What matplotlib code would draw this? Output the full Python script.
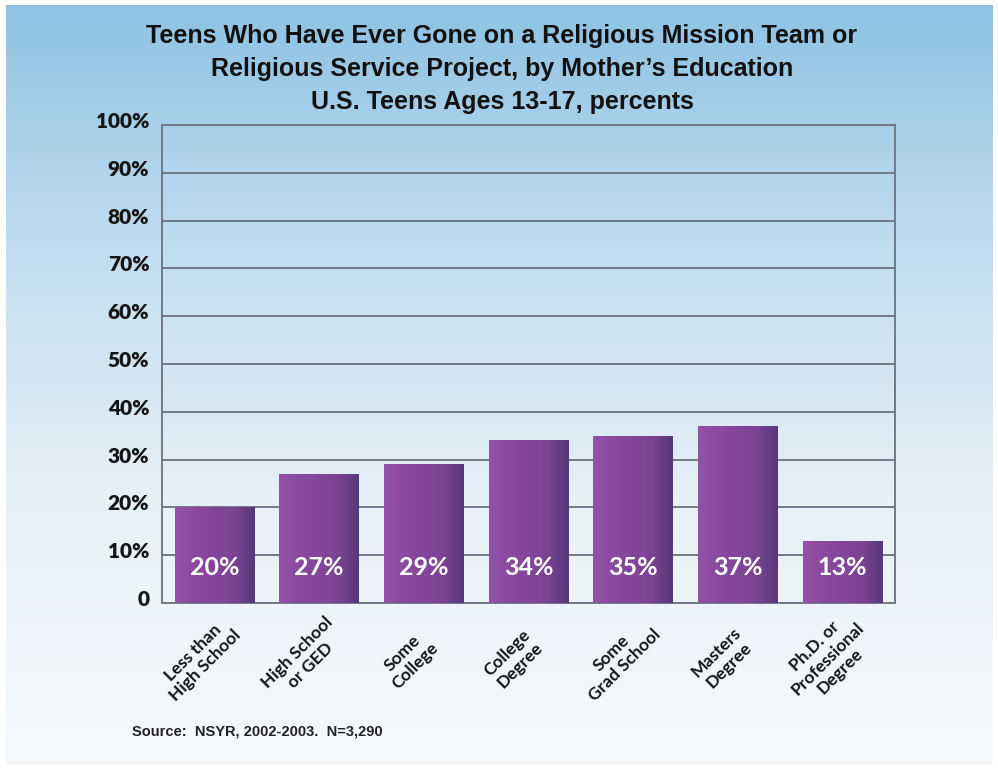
import numpy as np
import matplotlib
matplotlib.use('Agg')
import matplotlib.pyplot as plt
import matplotlib.transforms as mtransforms
from matplotlib.colors import LinearSegmentedColormap

categories = ['Less than\nHigh School', 'High School\nor GED', 'Some\nCollege', 'College\nDegree',
              'Some\nGrad School', 'Masters\nDegree', 'Ph.D. or\nProfessional\nDegree']
values = [20, 27, 29, 34, 35, 37, 13]
ytick_values = [0, 10, 20, 30, 40, 50, 60, 70, 80, 90, 100]
ytick_labels = ['0', '10%', '20%', '30%', '40%', '50%', '60%', '70%', '80%', '90%', '100%']

title = ("Teens Who Have Ever Gone on a Religious Mission Team or\n"
         "Religious Service Project, by Mother\u2019s Education\n"
         "U.S. Teens Ages 13-17, percents")
source = 'Source:  NSYR, 2002-2003.  N=3,290'

narrow = ['Liberation Sans', 'DejaVu Sans']
label_font = ['Lato', 'DejaVu Sans']

fig = plt.figure(figsize=(9.98, 7.70), dpi=100)
fig.patch.set_facecolor('white')

# background gradient
bg = fig.add_axes([0.006, 0.006, 0.988, 0.988], zorder=0)
bg_cmap = LinearSegmentedColormap.from_list('bg', ['#8ec2e3', '#c3def0', '#e8f1f8', '#f6f9fc'])
grad = np.linspace(0, 1, 256).reshape(-1, 1)
bg.imshow(grad, aspect='auto', cmap=bg_cmap, extent=[0, 1, 0, 1], origin='upper')
bg.set_axis_off()

ax = fig.add_axes([0.1623, 0.2169, 0.7345, 0.6208], zorder=1)
ax.patch.set_alpha(0)

x = np.arange(len(categories))
bars = ax.bar(x, values, width=0.76, color='#8a4a9c', zorder=3)

bar_cmap = LinearSegmentedColormap.from_list('bar', ['#9452a8', '#8a4a9e', '#84469a', '#7a4392', '#56387a'])
hgrad = np.linspace(0, 1, 128).reshape(1, -1)
for b in bars:
    im = ax.imshow(hgrad, aspect='auto', cmap=bar_cmap, zorder=4,
                   extent=[b.get_x(), b.get_x() + b.get_width(), 0, b.get_height()])
    im.set_clip_path(b)

for xi, v in zip(x, values):
    ax.text(xi, 7.5, f'{v}%', ha='center', va='center', color='white', fontsize=18,
            fontweight='bold', family=label_font, zorder=5)

ax.set_xlim(-0.5, len(categories) - 0.5)
ax.set_ylim(0, 100)
ax.set_yticks(ytick_values)
ax.set_yticklabels(ytick_labels, fontsize=15, fontweight='heavy', family=label_font, color='#151515')
ax.tick_params(axis='y', length=0, pad=9)
ax.set_xticks([])
ax.grid(axis='y', color='#6f7a86', linewidth=1.4, zorder=1)
for s in ax.spines.values():
    s.set_color('#6f7a86')
    s.set_linewidth(1.4)

shift = mtransforms.ScaledTranslation(0, 5 / 100, fig.dpi_scale_trans)
for lab in ax.get_yticklabels():
    lab.set_transform(lab.get_transform() + shift)

# rotated category labels
for xi, cat in zip(x, categories):
    off = mtransforms.offset_copy(ax.transData, fig=fig, x=-15, y=0, units='dots')
    trans = mtransforms.blended_transform_factory(off, fig.transFigure)
    ax.text(xi, 1 - 659 / 770, cat, transform=trans, rotation=45, ha='center', va='center',
            multialignment='center', fontsize=12.5, fontweight='bold', family=label_font,
            color='#151515', linespacing=1.15)

fig.text(0.503, 1 - 69 / 770, title, ha='center', va='center', fontsize=18, fontweight='bold',
         family=narrow, color='#111111', linespacing=1.5)
fig.text(132 / 998, 1 - 731 / 770, source, ha='left', va='center', fontsize=10.5, fontweight='bold',
         family=narrow, color='#222222')

fig.savefig('out.png', dpi=100)
plt.close(fig)
